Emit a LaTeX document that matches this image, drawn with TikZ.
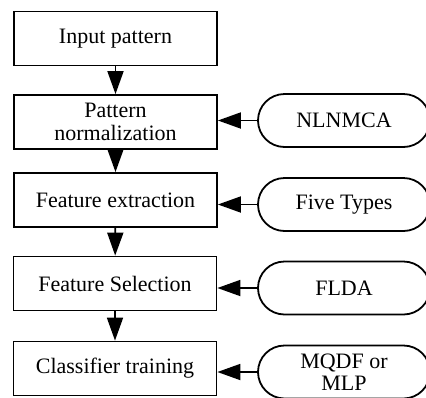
\documentclass[tikz,border=0pt]{standalone}
\usepackage{fontspec}
\setmainfont{Liberation Serif}
\usetikzlibrary{arrows.meta}
\begin{document}
\begin{tikzpicture}[x=1pt,y=-1pt,
  box/.style={draw, line width=1.8pt, minimum width=203pt, minimum height=54pt, inner sep=0pt, align=center, font=\fontsize{22}{22.5}\selectfont},
  term/.style={draw, line width=1.8pt, rounded corners=26.5pt, minimum width=172pt, minimum height=53pt, inner sep=0pt, align=center, font=\fontsize{22}{22.5}\selectfont},
  link/.style={line width=1.8pt, -{Triangle[length=23pt,width=16pt]}}]
\useasboundingbox (0,0) rectangle (426,397);
\clip (0,0) rectangle (426,397);
\node[box] (b1) at (115.5,38.5) {Input pattern};
\node[box] (b2) at (115.5,122) {Pattern\\normalization};
\node[box] (b3) at (115.5,200) {Feature extraction};
\node[box] (b4) at (115,283.5) {Feature Selection};
\node[box] (b5) at (115,368.5) {Classifier training};
\node[term] (t1) at (344,120.5) {NLNMCA};
\node[term] (t2) at (344,204.5) {Five Types};
\node[term] (t3) at (344,288) {FLDA};
\node[term] (t4) at (344,372) {MQDF or\\MLP};
\draw[link] (b1) -- (b2);
\draw[link] (b2) -- (b3);
\draw[link] (b3) -- (b4);
\draw[link] (b4) -- (b5);
\draw[link] (t1.west) -- (t1.west -| b2.east);
\draw[link] (t2.west) -- (t2.west -| b3.east);
\draw[link] (t3.west) -- (t3.west -| b4.east);
\draw[link] (t4.west) -- (t4.west -| b5.east);
\end{tikzpicture}
\end{document}
